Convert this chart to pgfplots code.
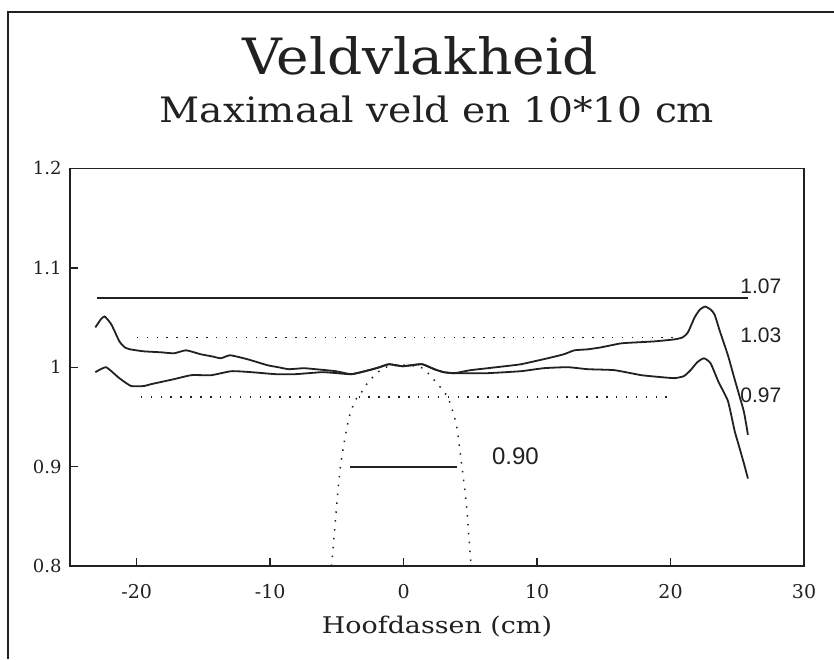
\documentclass[border=0pt]{standalone}
\usepackage{pgfplots}
\pgfplotsset{compat=1.18}
\usepackage{pgfplotstable}
\usepackage{fontspec}
\setmainfont{DejaVu Serif}
\newfontfamily\annfont{Liberation Sans}
\definecolor{ink}{rgb}{0.13,0.13,0.13}

\pgfplotstableread{
x y
-23.1 1.040
-22.7 1.048
-22.4 1.051
-21.9 1.043
-21.3 1.026
-20.9 1.020
-20.5 1.018
-19.5 1.016
-18.2 1.015
-17.2 1.014
-16.3 1.017
-15.2 1.013
-14.4 1.011
-13.7 1.009
-13.0 1.012
-11.7 1.008
-10.2 1.002
-9.4 1.000
-8.6 0.998
-7.5 0.999
-6.6 0.998
-5.1 0.996
-3.9 0.993
-2.6 0.997
-1.8 1.000
-1.1 1.003
-0.1 1.001
0.6 1.002
1.4 1.003
2.3 0.998
3.0 0.995
3.8 0.994
5.0 0.997
6.3 0.999
7.6 1.001
8.8 1.003
10.8 1.009
12.0 1.013
12.8 1.017
13.8 1.018
14.8 1.020
16.3 1.024
17.5 1.025
18.8 1.026
20.3 1.028
20.9 1.030
21.3 1.035
21.8 1.050
22.2 1.058
22.6 1.061
23.0 1.058
23.3 1.053
23.7 1.036
24.3 1.012
24.8 0.988
25.1 0.974
25.5 0.955
25.8 0.932
}\upperdata

\pgfplotstableread{
x y
-23.1 0.995
-22.7 0.998
-22.3 1.000
-21.9 0.996
-21.4 0.990
-20.9 0.985
-20.4 0.981
-19.5 0.981
-18.9 0.983
-17.2 0.988
-15.9 0.992
-14.4 0.992
-12.9 0.996
-11.4 0.995
-9.6 0.993
-8.1 0.993
-6.1 0.995
-5.0 0.994
-3.9 0.993
-2.6 0.997
-1.8 1.000
-1.1 1.003
-0.1 1.001
0.6 1.002
1.4 1.003
2.3 0.998
3.0 0.995
3.8 0.994
5.0 0.994
6.3 0.994
8.8 0.996
10.5 0.999
12.3 1.000
13.8 0.998
15.8 0.997
17.8 0.992
19.3 0.990
20.3 0.989
21.0 0.991
21.5 0.997
22.0 1.005
22.5 1.009
23.0 1.004
23.6 0.985
24.3 0.966
24.8 0.936
25.1 0.922
25.5 0.903
25.8 0.888
}\lowerdata

\pgfplotstableread{
x y
-5.4 0.800
-5.0 0.864
-4.7 0.904
-4.15 0.946
-3.65 0.966
-3.15 0.975
-2.6 0.986
-1.65 0.998
-1.0 1.001
0 1.002
1.0 1.001
1.55 0.998
2.35 0.986
3.05 0.975
3.45 0.965
3.95 0.942
4.35 0.902
4.7 0.862
5.05 0.800
}\profiledata

\begin{document}
\begin{tikzpicture}
\useasboundingbox (0,0) rectangle (417pt,329.5pt);
\fill[white] (0,0) rectangle (417pt,329.5pt);
\draw[ink, line width=1pt] (4pt,0) -- (4pt,323.5pt) -- (417pt,323.5pt);

\node[ink, anchor=base, font=\fontsize{25}{28}\selectfont] at (210pt,292pt) {\scalebox{1.1}[1]{Veldvlakheid}};
\node[ink, anchor=base, font=\fontsize{17.5}{20}\selectfont] at (218.5pt,268pt) {\scalebox{1.12}[1]{Maximaal veld en 10*10 cm}};
\node[ink, anchor=base, font=\fontsize{11.5}{13}\selectfont] at (218.5pt,13pt) {\scalebox{1.17}[1]{Hoofdassen (cm)}};

\begin{axis}[
  at={(35pt,46.5pt)}, anchor=south west,
  width=367pt, height=198.8pt, scale only axis,
  xmin=-25, xmax=30, ymin=0.8, ymax=1.2,
  xtick={-20,-10,0,10,20,30},
  xticklabels={-20,-10,0,10,20,30},
  ytick={0.8,0.9,1,1.1,1.2},
  yticklabels={0.8,0.9,1,1.1,1.2},
  tick align=inside, tick pos=left,
  major tick length=4pt,
  axis line style={ink, line width=0.9pt},
  every tick/.style={ink, line width=0.7pt},
  xticklabel style={anchor=center, yshift=-13pt, inner sep=0pt, ink, font=\fontsize{9.5}{10}\selectfont},
  yticklabel style={anchor=east, xshift=-4pt, inner sep=0pt, ink, font=\fontsize{9}{10}\selectfont},
  clip=false,
]
\addplot[ink, line width=0.9pt, smooth, tension=0.3] table[x=x,y=y] {\upperdata};
\addplot[ink, line width=0.9pt, smooth, tension=0.3] table[x=x,y=y] {\lowerdata};
\addplot[ink, line width=0.75pt, dash pattern=on 0.75pt off 3.7pt, smooth, tension=0.4] table[x=x,y=y] {\profiledata};
\addplot[ink, line width=0.9pt] coordinates {(-23.0,1.07) (25.8,1.07)};
\addplot[ink, line width=0.75pt, dash pattern=on 0.75pt off 4.2pt] coordinates {(-20.0,1.03) (20.3,1.03)};
\addplot[ink, line width=0.75pt, dash pattern=on 0.75pt off 4.2pt] coordinates {(-19.7,0.97) (19.8,0.97)};
\addplot[ink, line width=0.9pt] coordinates {(-4.0,0.90) (3.97,0.90)};
\node[ink, anchor=west, inner sep=0pt, font=\annfont\fontsize{10.5}{12}\selectfont] at (axis cs:25.2,1.081) {1.07};
\node[ink, anchor=west, inner sep=0pt, font=\annfont\fontsize{10.5}{12}\selectfont] at (axis cs:25.2,1.0324) {1.03};
\node[ink, anchor=west, inner sep=0pt, font=\annfont\fontsize{10.5}{12}\selectfont] at (axis cs:25.2,0.9716) {0.97};
\node[ink, anchor=west, inner sep=0pt, font=\annfont\fontsize{12}{14}\selectfont] at (axis cs:6.6,0.910) {0.90};
\end{axis}
\end{tikzpicture}
\end{document}
